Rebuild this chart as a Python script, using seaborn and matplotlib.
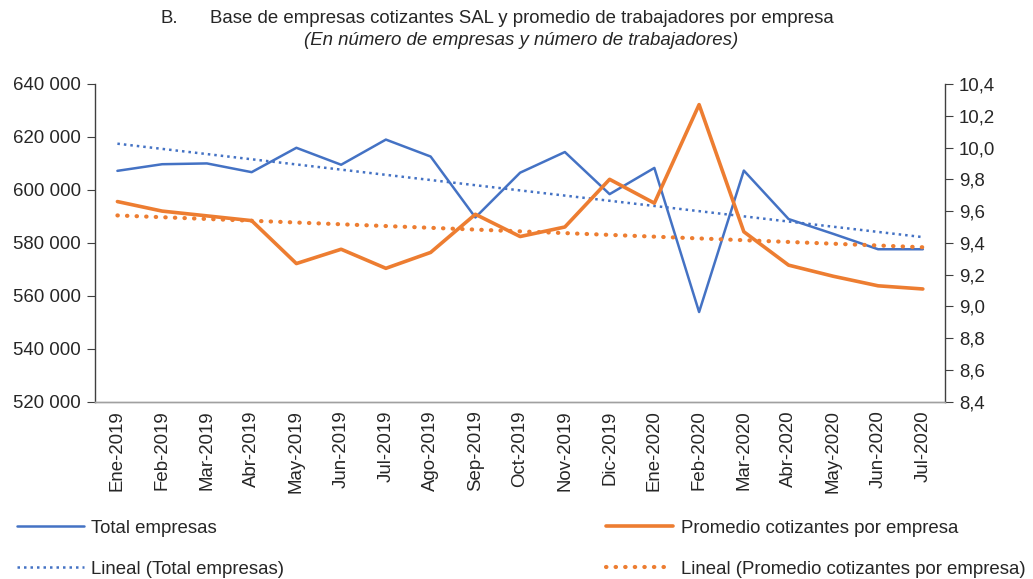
import numpy as np
import pandas as pd
import matplotlib
matplotlib.use("Agg")
import matplotlib.pyplot as plt
import seaborn as sns
from matplotlib.ticker import FuncFormatter, FixedLocator

months = ['Ene-2019', 'Feb-2019', 'Mar-2019', 'Abr-2019', 'May-2019', 'Jun-2019',
          'Jul-2019', 'Ago-2019', 'Sep-2019', 'Oct-2019', 'Nov-2019', 'Dic-2019',
          'Ene-2020', 'Feb-2020', 'Mar-2020', 'Abr-2020', 'May-2020', 'Jun-2020',
          'Jul-2020']
total_empresas = [607200, 609700, 610000, 606700, 615900, 609500, 619000, 612600,
                  589600, 606500, 614300, 598400, 608300, 553900, 607300, 589000,
                  583400, 577600, 577600]
promedio_cotizantes = [9.66, 9.60, 9.57, 9.54, 9.27, 9.36, 9.24, 9.34, 9.58, 9.44,
                       9.50, 9.80, 9.65, 10.27, 9.47, 9.26, 9.19, 9.13, 9.11]

BLUE = '#4472C4'
ORANGE = '#ED7D31'
FS = 13.4

sns.set_style("white")
plt.rcParams['font.family'] = ['Liberation Sans', 'DejaVu Sans']

df = pd.DataFrame({'mes': months, 'x': np.arange(len(months)),
                   'total': total_empresas, 'prom': promedio_cotizantes})

# Lineal trend (least squares, like the Excel trendline)
df['total_trend'] = np.polyval(np.polyfit(df['x'], df['total'], 1), df['x'])
df['prom_trend'] = np.polyval(np.polyfit(df['x'], df['prom'], 1), df['x'])

fig = plt.figure(figsize=(10.33, 5.79), dpi=100)
ax = fig.add_axes([0.092, 0.306, 0.823, 0.549])
ax2 = ax.twinx()

sns.lineplot(data=df, x='x', y='total_trend', ax=ax, color=BLUE, lw=1.8,
             linestyle=(0, (1, 1.6)), label='Lineal (Total empresas)', legend=False)
sns.lineplot(data=df, x='x', y='total', ax=ax, color=BLUE, lw=1.8,
             label='Total empresas', legend=False)
sns.lineplot(data=df, x='x', y='prom_trend', ax=ax2, color=ORANGE, lw=3,
             linestyle=(0, (0.1, 2.2)), dash_capstyle='round',
             label='Lineal (Promedio cotizantes por empresa)', legend=False)
sns.lineplot(data=df, x='x', y='prom', ax=ax2, color=ORANGE, lw=2.6,
             label='Promedio cotizantes por empresa', legend=False)

ax.set_xlim(-0.5, len(months) - 0.5)
ax.set_ylim(520000, 640000)
ax.set_yticks(np.arange(520000, 640001, 20000))
ax.yaxis.set_major_formatter(FuncFormatter(lambda v, p: f"{int(v):,}".replace(',', ' ')))
ax2.set_ylim(8.4, 10.4)
ax2.set_yticks(np.arange(8.4, 10.41, 0.2))
ax2.yaxis.set_major_formatter(FuncFormatter(lambda v, p: f"{v:.1f}".replace('.', ',')))

ax.set_xticks(df['x'])
ax.set_xticklabels(months, rotation=90, fontsize=FS)
ax.tick_params(axis='x', which='major', length=0, pad=6)
ax.xaxis.set_minor_locator(FixedLocator(np.arange(-0.5, len(months), 1.0)))
ax.tick_params(axis='x', which='minor', length=6, color='#7f7f7f', direction='out')
ax.tick_params(axis='y', length=6, color='#404040', direction='out', labelsize=FS, pad=4)
ax2.tick_params(axis='y', length=6, color='#404040', direction='out', labelsize=FS, pad=4)
ax.set_xlabel('')
ax.set_ylabel('')
ax2.set_ylabel('')

for a in (ax, ax2):
    a.spines['top'].set_visible(False)
    a.spines['left'].set_color('#404040')
    a.spines['right'].set_color('#404040')
    a.spines['bottom'].set_color('#a0a0a0')
    for s in a.spines.values():
        s.set_linewidth(1.0)
ax2.spines['left'].set_visible(False)
ax.spines['right'].set_visible(False)

fig.text(0.155, 0.968, 'B.', fontsize=FS, ha='left', va='center')
fig.text(0.505, 0.968, 'Base de empresas cotizantes SAL y promedio de trabajadores por empresa',
         fontsize=FS, ha='center', va='center')
fig.text(0.504, 0.930, '(En número de empresas y número de trabajadores)',
         fontsize=FS, ha='center', va='center', style='italic')

h1, l1 = ax.get_legend_handles_labels()
h2, l2 = ax2.get_legend_handles_labels()
d = dict(zip(l1 + l2, h1 + h2))
order = ['Total empresas', 'Lineal (Total empresas)',
         'Promedio cotizantes por empresa', 'Lineal (Promedio cotizantes por empresa)']
fig.legend([d[k] for k in order], order, ncol=2, loc='lower left',
           bbox_to_anchor=(0.0, -0.027), frameon=False, fontsize=FS,
           handlelength=3.6, handletextpad=0.4, columnspacing=17.3, labelspacing=1.3)

fig.savefig('out.png', dpi=100)
